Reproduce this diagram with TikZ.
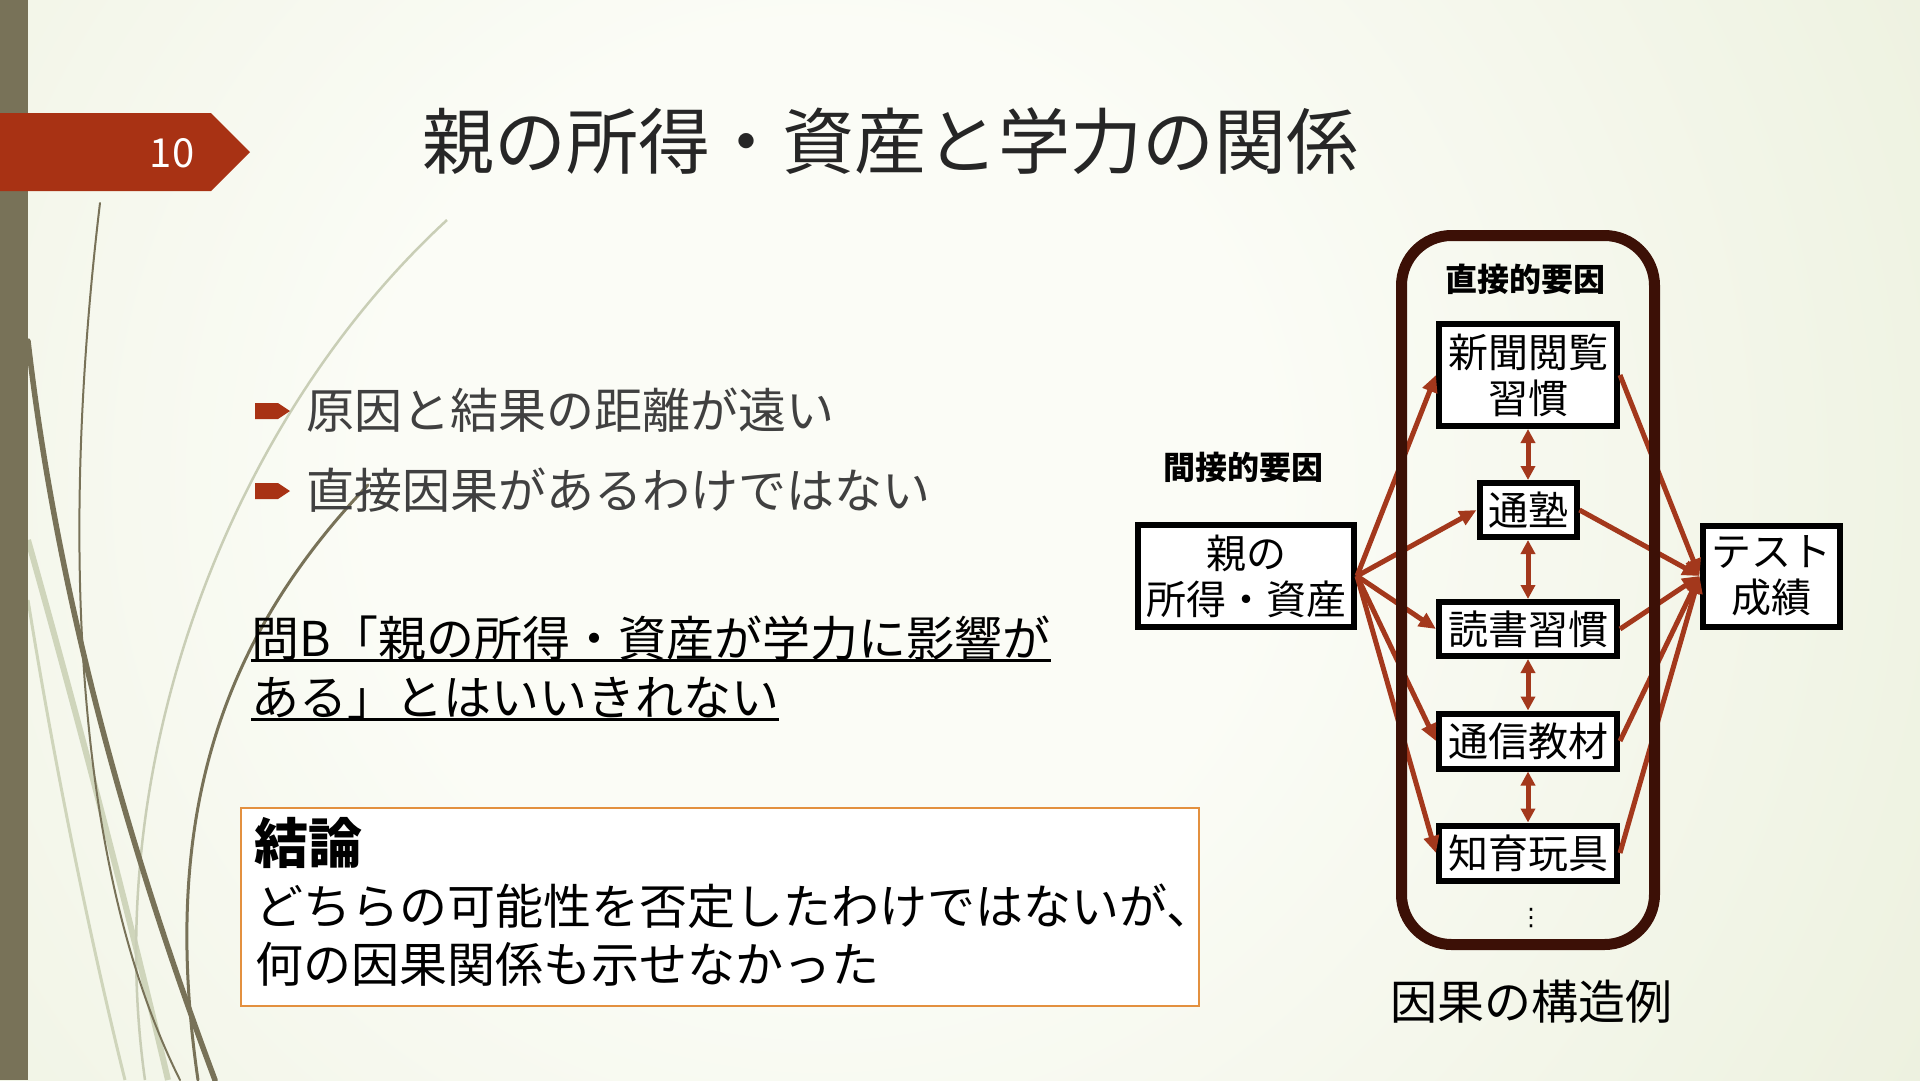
\documentclass[tikz,border=0pt]{standalone}
\usepackage{fontspec}
\setmainfont{Noto Sans CJK JP}
\newfontfamily\dejavu{DejaVu Sans}
\usetikzlibrary{arrows.meta,shapes.geometric}
\definecolor{bandc}{HTML}{787258}
\definecolor{redc}{HTML}{A83214}
\definecolor{arrowc}{HTML}{A3381C}
\definecolor{framec}{HTML}{3C1006}
\definecolor{titlec}{HTML}{262626}
\definecolor{bulltext}{HTML}{404040}
\definecolor{orangec}{HTML}{E3903F}
\definecolor{bgin}{HTML}{FBFCF6}
\definecolor{bgout}{HTML}{DCE4C4}
\definecolor{decolight}{HTML}{C9CEB6}
\definecolor{decolight2}{HTML}{CFD5BB}
\pgfdeclareradialshading{bgshade}{\pgfpoint{0bp}{0bp}}{color(0bp)=(bgin); color(8bp)=(bgin); color(40bp)=(bgout); color(50bp)=(bgout)}
\newcommand\fsz[2]{\fontsize{#1}{#2}\selectfont}
\begin{document}
\begin{tikzpicture}[x=1pt,y=-1pt,
  box/.style={draw=black,line width=6pt,fill=white,inner sep=0pt,align=center,font=\fsz{40}{46}},
  arr/.style={draw=arrowc,line width=5pt,-{Triangle[length=17pt,width=15pt]}},
  darr/.style={draw=arrowc,line width=5pt,{Triangle[length=14pt,width=14pt]}-{Triangle[length=14pt,width=14pt]}},
  decodark/.style={draw=bandc,line cap=round},
  lbl/.style={inner sep=0pt},
]
\useasboundingbox (0,0) rectangle (1920,1080);
\begin{scope}
\clip (0,0) rectangle (1920,1080);
\shade[shading=bgshade] (820,480) circle (1400pt);
% decorative curves
\draw[decolight2,line width=6pt] (28,540) .. controls (90,760) and (140,960) .. (168,1080);
\draw[decolight2,line width=3pt] (28,600) .. controls (60,800) and (100,980) .. (125,1080);
\draw[decolight,line width=2.5pt] (447,220) .. controls (230,420) and (100,760) .. (145,1080);
\draw[decodark,line width=5.5pt] (28,341) .. controls (60,620) and (140,880) .. (215,1080);
\draw[decodark,line width=2pt] (100,203) .. controls (62,520) and (70,860) .. (180,1080);
\draw[decodark,line width=3pt] (368,485) .. controls (220,640) and (160,820) .. (198,1080);
\end{scope}
% left band and banner
\fill[bandc] (0,0) rectangle (28,1080);
\fill[redc] (0,113) -- (211,113) -- (250,152) -- (211,191) -- (0,191) -- cycle;
\node[lbl,text=white,font=\fsz{40}{48}] (num) at (172,153) {10};
% title
\node[lbl,anchor=west,text=titlec,font=\fsz{72}{84}] (title) at (422,141) {親の所得・資産と学力の関係};
% bullets
\fill[redc] (255,403) -- (278,403) -- (290,411) -- (278,419) -- (255,419) -- cycle;
\node[lbl,anchor=west,text=bulltext,font=\fsz{48}{56}] (b1) at (306,410) {原因と結果の距離が遠い};
\fill[redc] (255,483) -- (278,483) -- (290,491) -- (278,499) -- (255,499) -- cycle;
\node[lbl,anchor=west,text=bulltext,font=\fsz{48}{56}] (b2) at (306,490) {直接因果があるわけではない};
% underlined question
\node[lbl,anchor=west,text=black,font=\fsz{48}{56}] (q1) at (251,638) {問B「親の所得・資産が学力に影響が};
\node[lbl,anchor=west,text=black,font=\fsz{48}{56}] (q2) at (251,698) {ある」とはいいきれない};
\draw[black,line width=2.2pt] (q1.south west) -- (q1.south east);
\draw[black,line width=2.2pt] (q2.south west) -- (q2.south east);
% conclusion box
\node[draw=orangec,line width=2.5pt,fill=white,minimum width=958pt,minimum height=198pt,inner sep=0pt] (concl) at (720,907) {};
\node[lbl,anchor=west,font=\bfseries\fsz{54}{60}] (c0) at (254,843) {結論};
\node[lbl,anchor=west,font=\fsz{48}{54}] (c1) at (255,906) {どちらの可能性を否定したわけではないが、};
\node[lbl,anchor=west,font=\fsz{48}{54}] (c2) at (255,964) {何の因果関係も示せなかった};
% diagram nodes
\node[box,minimum width=216pt,minimum height=102pt] (src) at (1246,576) {親の\\所得・資産};
\node[box,minimum width=137pt,minimum height=101pt] (tgt) at (1771,576) {テスト\\成績};
\node[box,minimum width=178pt,minimum height=102pt] (n1) at (1528,375) {新聞閲覧\\習慣};
\node[box,minimum width=97pt,minimum height=54pt] (n2) at (1528,510) {通塾};
\node[box,minimum width=178pt,minimum height=54pt] (n3) at (1528,629) {読書習慣};
\node[box,minimum width=178pt,minimum height=55pt] (n4) at (1528,741) {通信教材};
\node[box,minimum width=178pt,minimum height=55pt] (n5) at (1528,853) {知育玩具};
% arrows
\foreach \n in {n1,n2,n3,n4,n5} {
  \draw[arr] (src.east) -- (\n.west);
  \draw[arr] (\n.east) -- (tgt.west);
}
\draw[darr] (n1.south) -- (n2.north);
\draw[darr] (n2.south) -- (n3.north);
\draw[darr] (n3.south) -- (n4.north);
\draw[darr] (n4.south) -- (n5.north);
% frame on top
\node[draw=framec,line width=11pt,rounded corners=50pt,minimum width=253pt,minimum height=709pt,inner sep=0pt] (frame) at (1528,590) {};
% labels
\node[lbl,font=\bfseries\fsz{32}{36}] (l1) at (1525,279) {直接的要因};
\node[lbl,font=\bfseries\fsz{32}{36}] (l2) at (1243,467) {間接的要因};
\node[lbl,font=\dejavu\fsz{24}{28}] (dots) at (1531,918) {⋮};
\node[lbl,font=\fsz{47}{54}] (cap) at (1531,1002) {因果の構造例};
\end{tikzpicture}
\end{document}
